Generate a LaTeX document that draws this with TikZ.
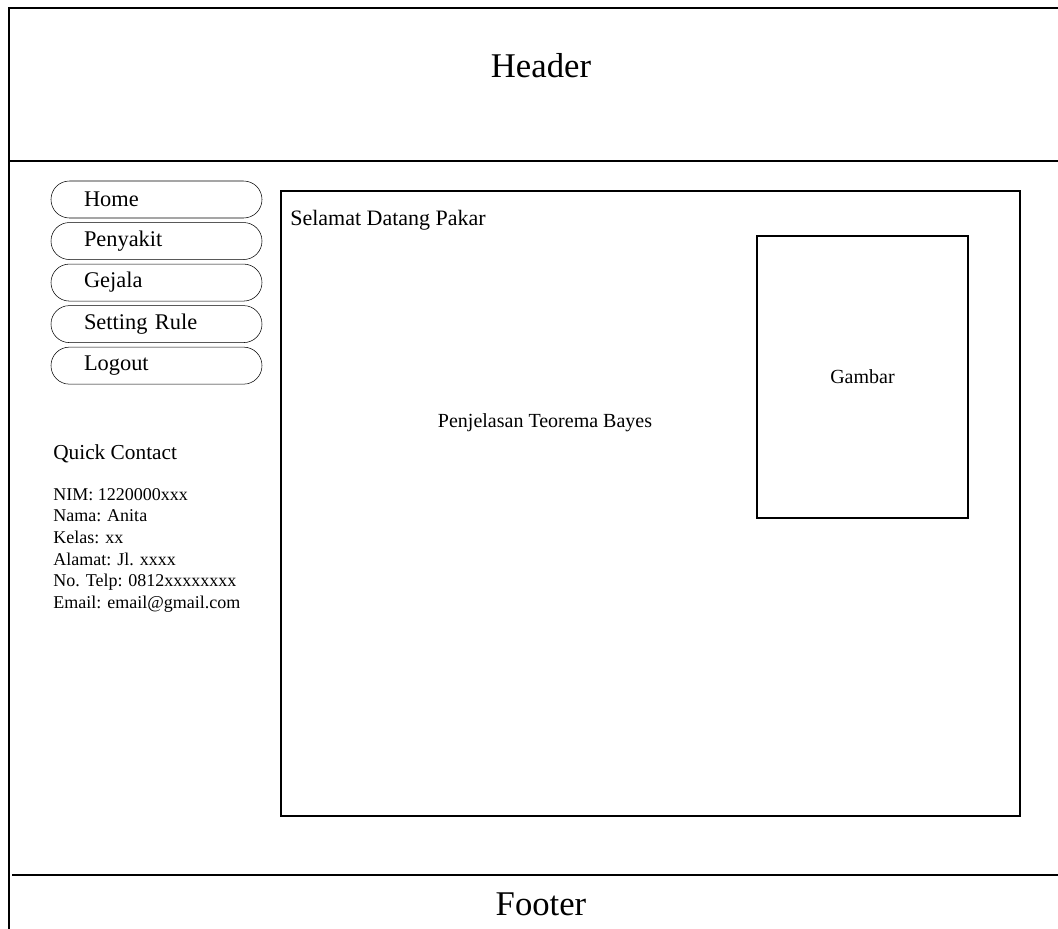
\documentclass[tikz,border=0pt]{standalone}
\usepackage{fontspec}
\setmainfont{Liberation Serif}
\usepackage{tikz}
\usetikzlibrary{positioning}

\begin{document}
\begin{tikzpicture}[
    x=0.75pt,y=-0.75pt,
    frame/.style={draw,line width=0.8pt},
    menu/.style={draw,rounded corners=13.8pt,minimum width=158.25pt,minimum height=27.75pt,
      inner xsep=24.75pt,text width=108.75pt,align=left,font=\fontsize{16.8}{19}\selectfont},
    panel/.style={draw,line width=0.8pt,inner sep=0pt}
  ]
    \useasboundingbox (0,0) rectangle (1058,929);

    % page frame, header and footer
    \coordinate (tl) at (9,8);
    \coordinate (tr) at (1058,8);
    \coordinate (bl) at (9,929);
    \draw[frame] (tr) -- (tl) -- (bl);
    \coordinate (hl) at (10,161);
    \coordinate (hr) at (1058,161);
    \coordinate (fl) at (12,875);
    \coordinate (fr) at (1058,875);
    \draw[frame] (hl) -- (hr);
    \draw[frame] (fl) -- (fr);
    \node[font=\fontsize{26}{30}\selectfont] (head) at (541,66) {Header};
    \node[font=\fontsize{26}{30}\selectfont] (foot) at (541,904) {Footer};

    % menu
    \node[menu] (home) at (156.5,199.5) {Home};
    \node[menu,below=3pt of home] (sakit) {Penyakit};
    \node[menu,below=3pt of sakit] (gejala) {Gejala};
    \node[menu,below=3pt of gejala] (rule) {Setting Rule};
    \node[menu,below=3pt of rule] (logout) {Logout};

    % contact
    \node[anchor=base west,inner sep=0pt,font=\fontsize{16}{19}\selectfont] (qc) at (53,459) {Quick Contact};
    \node[anchor=north west,inner sep=0pt,align=left,font=\fontsize{13.5}{16.2}\selectfont] (info) at (53,488)
      {NIM: 1220000xxx\\Nama: Anita\\Kelas: xx\\Alamat: Jl. xxxx\\No. Telp: 0812xxxxxxxx\\Email: email@gmail.com};

    % content
    \node[panel,minimum width=554.25pt,minimum height=468.75pt] (main) at (650.5,503.5) {};
    \node[anchor=base west,inner sep=0pt,font=\fontsize{16.5}{19}\selectfont] (welcome) at (290,225) {Selamat Datang Pakar};
    \node[panel,minimum width=158.25pt,minimum height=211.5pt] (pic) at (862.5,377) {};
    \node[font=\fontsize{15}{18}\selectfont] (gbr) at (pic) {Gambar};
    \node[font=\fontsize{15}{18}\selectfont] (bayes) at (545,423) {Penjelasan Teorema Bayes};
  \end{tikzpicture}
\end{document}
